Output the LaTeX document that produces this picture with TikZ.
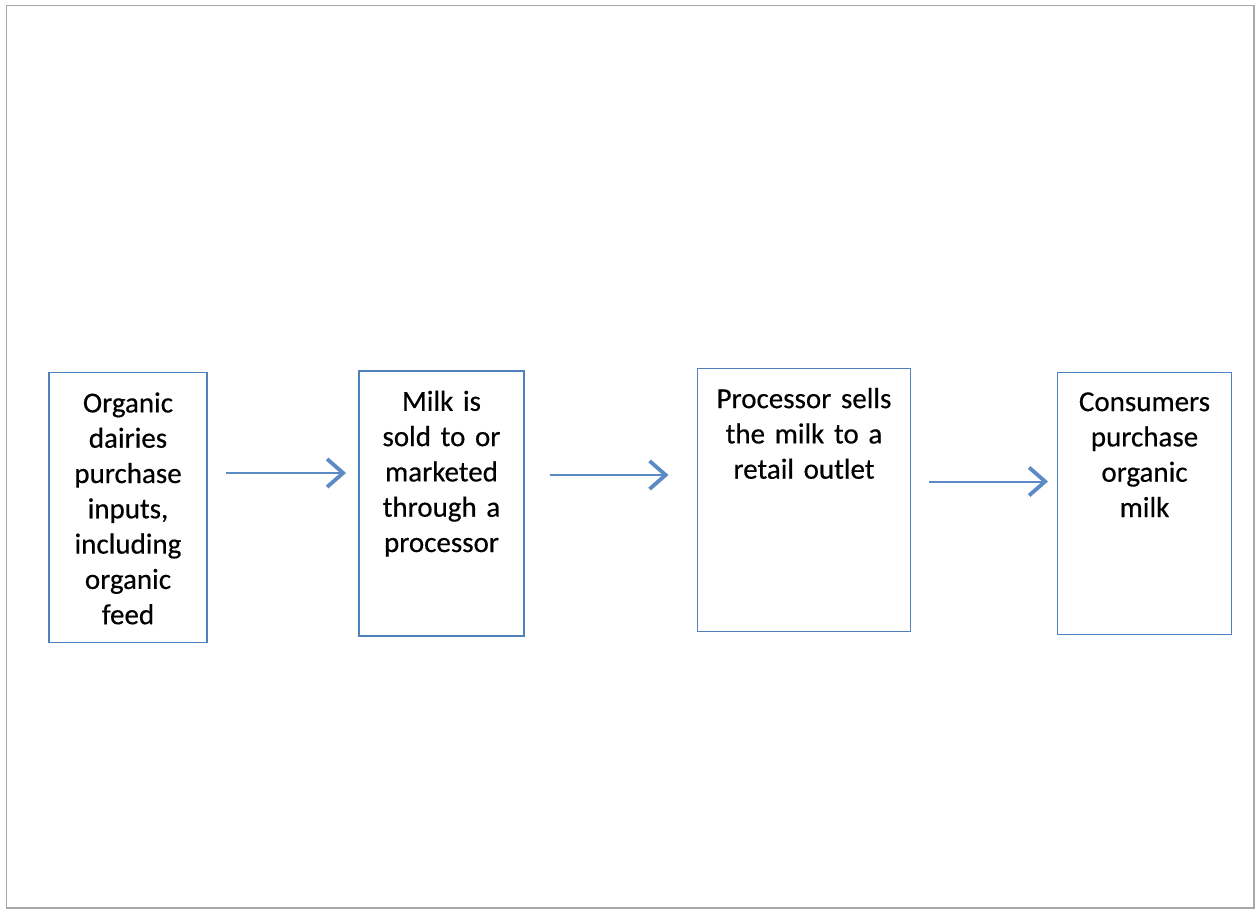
\documentclass[tikz,border=0pt]{standalone}
\usepackage{fontspec}
\setmainfont{Carlito}[FakeBold = 0.4]
\usetikzlibrary{arrows.meta}

\definecolor{boxblue}{HTML}{4F81BD}
\definecolor{arrowblue}{HTML}{5B8AC4}
\definecolor{framegray}{HTML}{A8A8A8}

\begin{document}
\begin{tikzpicture}[x = 1pt, y = -1pt,
                    stage/.style = {draw = boxblue, line width = 1.4pt, inner sep = 0pt},
                    caption/.style = {anchor = base, align = center, text width = 200pt, inner sep = 0pt,
                                      font = \fontsize{29}{35.3}\selectfont},
                    flow/.style = {draw = arrowblue, line width = 2pt,
                                   -{Straight Barb[length = 16pt, width = 28pt, line width = 3.8pt]}}]
      \useasboundingbox (0, 0) rectangle (1255, 909);
      \draw [framegray, line width = 1.8pt] (6.5, 5.5) rectangle (1254, 908);

      \node [stage, minimum width = 158pt, minimum height = 270pt] (dairy) at (128, 507.6){};
      \node [stage, minimum width = 165pt, minimum height = 265pt] (proc) at (441.5, 503.5){};
      \node [stage, minimum width = 213.4pt, minimum height = 263.4pt] (retail) at (804, 500){};
      \node [stage, minimum width = 174.4pt, minimum height = 262pt] (cons) at (1144.5, 503.3){};

      \node [caption] (dairytext) at ([yshift = -40.5pt]dairy.north)
            {Organic\\dairies\\purchase\\inputs,\\including\\organic\\feed};
      \node [caption] (proctext) at ([yshift = -40.5pt]proc.north)
            {Milk is\\sold to or\\marketed\\through a\\processor};
      \node [caption] (retailtext) at ([yshift = -40.5pt]retail.north)
            {Processor sells\\the milk to a\\retail outlet};
      \node [caption] (constext) at ([yshift = -39.5pt]cons.north)
            {Consumers\\purchase\\organic\\milk};

      \coordinate (a1) at (226, 473);
      \coordinate (b1) at (346, 473);
      \coordinate (a2) at (550, 475);
      \coordinate (b2) at (668.5, 475);
      \coordinate (a3) at (929, 481.5);
      \coordinate (b3) at (1048, 481.5);

      \draw [flow] (a1) -- (b1);
      \draw [flow] (a2) -- (b2);
      \draw [flow] (a3) -- (b3);

\end{tikzpicture}
\end{document}
